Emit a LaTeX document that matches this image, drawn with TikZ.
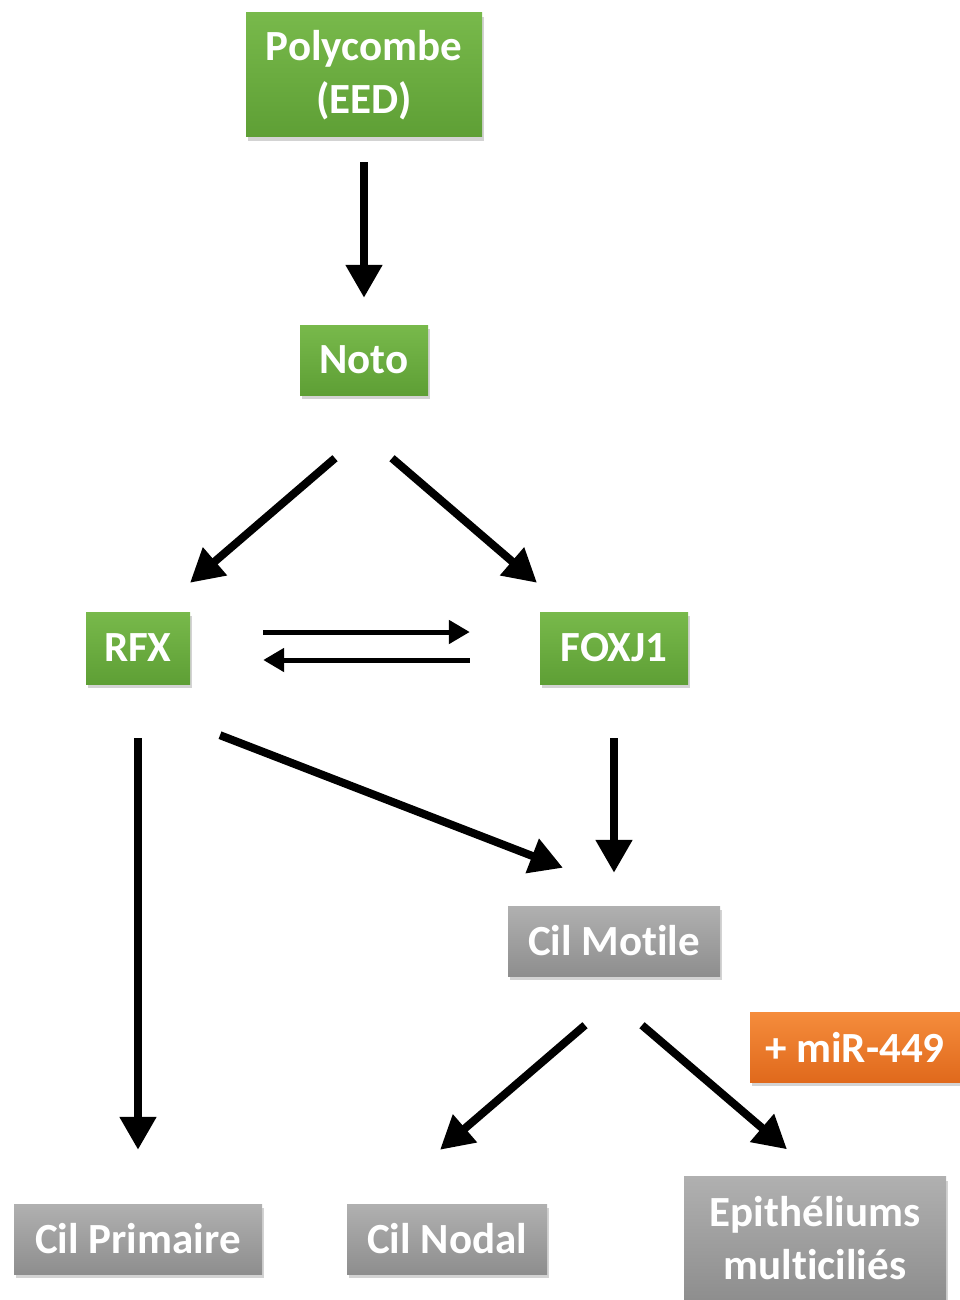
\documentclass[tikz,border=0pt]{standalone}
\usepackage{fontspec}
\setmainfont{Carlito}[Ligatures=NoCommon]
\usetikzlibrary{shapes,arrows.meta,shadows,calc,positioning}

\definecolor{greentop}{HTML}{78B94B}
\definecolor{greenbot}{HTML}{5E9F35}
\definecolor{greytop}{HTML}{B0B0B0}
\definecolor{greybot}{HTML}{8E8E8E}
\definecolor{orangetop}{HTML}{F58C3C}
\definecolor{orangebot}{HTML}{E0691C}

\tikzset{
  gene/.style={rectangle, top color=greentop, bottom color=greenbot, draw=none,
    text=white, align=center, font=\bfseries\fontsize{43}{53}\selectfont,
    drop shadow={opacity=0.35, shadow xshift=2pt, shadow yshift=-4pt}},
  pheno/.style={gene, top color=greytop, bottom color=greybot},
  mirna/.style={gene, top color=orangetop, bottom color=orangebot},
  link/.style={line width=8pt, -{Triangle[length=33pt,width=35pt]}},
  feedback/.style={line width=5pt, -{Triangle[length=21pt,width=23pt]}}
}

\begin{document}
\begin{tikzpicture}[x=1pt, y=-1pt]
\useasboundingbox (0,0) rectangle (960,1300);

\node[gene, minimum width=236pt, minimum height=124pt] (poly) at (364,75) {Polycombe\\(EED)};
\node[gene, minimum width=128pt, minimum height=70pt] (noto) at (364,360) {Noto};
\node[gene, minimum width=104pt, minimum height=72pt] (rfx) at (138,648) {RFX};
\node[gene, minimum width=148pt, minimum height=72pt] (foxj) at (614,648) {FOXJ1};
\node[pheno, minimum width=212pt, minimum height=70pt] (motile) at (614,941) {Cil Motile};
\node[mirna, minimum width=210pt, minimum height=70pt] (mir) at (855,1047) {+ miR-449};
\node[pheno, minimum width=248pt, minimum height=70pt] (prim) at (138,1239) {Cil Primaire};
\node[pheno, minimum width=200pt, minimum height=70pt] (nodal) at (447,1239) {Cil Nodal};
\node[pheno, minimum width=262pt, minimum height=123pt] (epith) at (815,1238) {Epithéliums\\multiciliés};

% arrows between levels
\draw[link] ($(poly.south)+(0,25)$) -- ($(noto.north)+(0,-27)$);
\draw[link] ($(noto.south)+(-29,63)$) -- ($(rfx.north)+(52,-29)$);
\draw[link] ($(noto.south)+(28,63)$) -- ($(foxj.north)+(-77,-29)$);
\draw[feedback] ($(rfx.east)+(73,-16)$) -- ($(foxj.west)+(-70,-16)$);
\draw[feedback] ($(foxj.west)+(-70,12)$) -- ($(rfx.east)+(73,12)$);
\draw[link] ($(rfx.south)+(0,54)$) -- ($(prim.north)+(0,-54)$);
\draw[link] ($(rfx.south)+(82,51)$) -- ($(motile.north)+(-51,-38)$);
\draw[link] ($(foxj.south)+(0,54)$) -- ($(motile.north)+(0,-33)$);
\draw[link] ($(motile.south)+(-29,49)$) -- ($(nodal.north)+(-7,-54)$);
\draw[link] ($(motile.south)+(28,49)$) -- ($(epith.north)+(-28,-27)$);
\end{tikzpicture}
\end{document}
